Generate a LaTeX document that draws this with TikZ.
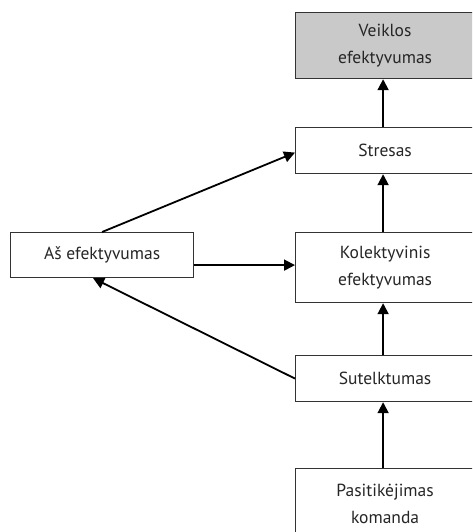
\documentclass[tikz,border=0pt]{standalone}
\usepackage{fontspec}
\setmainfont{PT Sans}
\usetikzlibrary{arrows.meta}
\begin{document}
\begin{tikzpicture}[x=1pt,y=-1pt,
  box/.style={draw=black!80,line width=1.2pt,anchor=north west,inner sep=0pt,align=center,
    font=\fontsize{17.5}{27}\selectfont,text=black!85},
  arr/.style={line width=1.8pt,-{Triangle[length=11pt,width=11pt]}}]
\clip (0,0) rectangle (472,532);
\fill[white] (0,0) rectangle (472,532);
\node[box,fill=black!21,minimum width=179pt,minimum height=66pt] (veik) at (295,12) {Veiklos\\efektyvumas};
\node[box,minimum width=179pt,minimum height=46pt] (stres) at (295,127) {Stresas};
\node[box,minimum width=179pt,minimum height=70pt] (kol) at (295,232) {Kolektyvinis\\efektyvumas};
\node[box,minimum width=179pt,minimum height=46pt] (sut) at (295,355) {Sutelktumas};
\node[box,minimum width=179pt,minimum height=70pt] (pas) at (295,468) {Pasitikėjimas\\komanda};
\node[box,minimum width=183pt,minimum height=45pt] (as) at (10,232) {Aš efektyvumas};
\draw[arr] ([xshift=-2pt]stres.north) -- ([xshift=-2pt]veik.south);
\draw[arr] ([xshift=-2pt]kol.north) -- ([xshift=-2pt]stres.south);
\draw[arr] ([xshift=-2pt]sut.north) -- ([xshift=-2pt]kol.south);
\draw[arr] ([xshift=-2pt]pas.north) -- ([xshift=-2pt]sut.south);
\draw[arr] (as.north) -- ([yshift=-2pt]stres.west);
\draw[arr] ([yshift=-10pt]as.east) coordinate (a1) -- (a1 -| kol.west);
\draw[arr] (sut.west) -- ([xshift=-9pt]as.south);
\end{tikzpicture}
\end{document}
